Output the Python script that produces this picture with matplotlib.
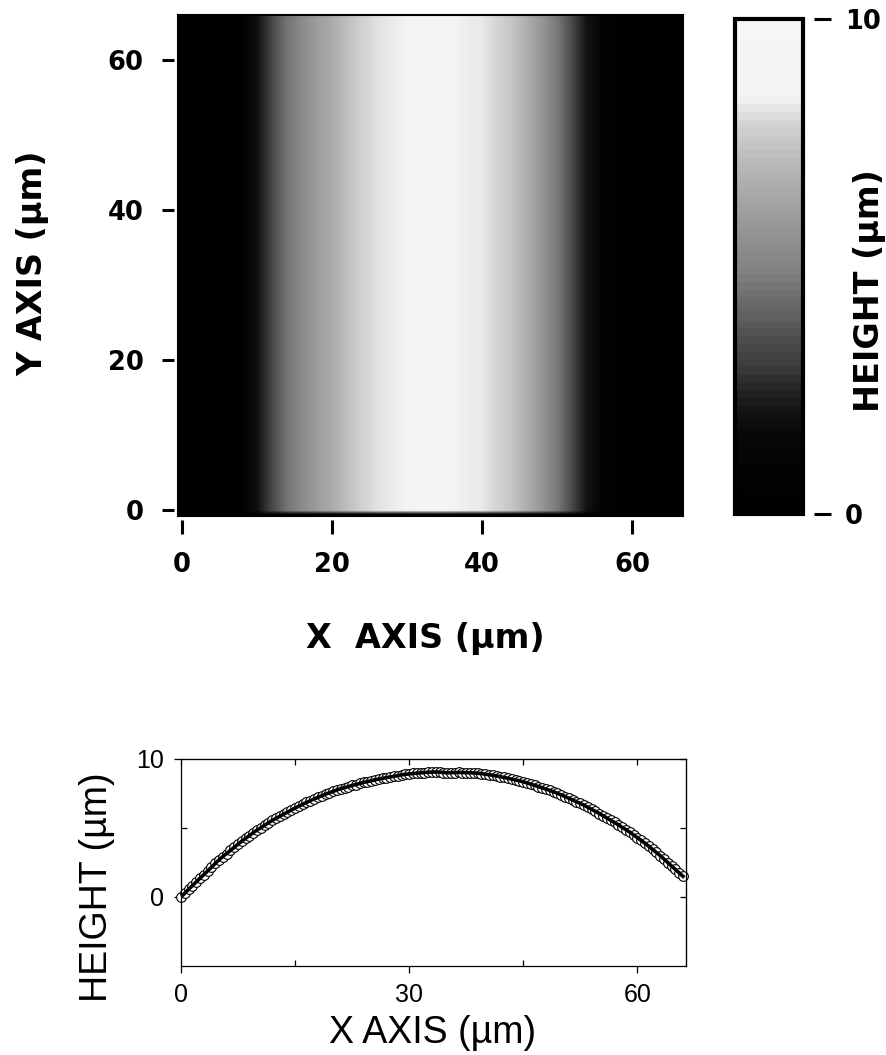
import numpy as np
import matplotlib
matplotlib.use("Agg")
import matplotlib.pyplot as plt
from matplotlib.colors import LinearSegmentedColormap

# ---------------- data ----------------
# Top map: height (um) across X (stripe is uniform along Y), sampled every 2 um
map_x = [0, 2, 4, 6, 8, 10, 12, 14, 16, 18, 20, 22, 24, 26, 28, 30, 32, 34,
         36, 38, 40, 42, 44, 46, 48, 50, 52, 54, 56, 58, 60, 62, 64, 66]
map_height = [0.3, 0.3, 0.3, 0.3, 0.4, 1.8, 3.3, 4.5, 5.3, 6.0, 6.6, 7.3,
              7.85, 8.15, 8.3, 8.5, 9.0, 9.2, 8.8, 8.35, 8.25, 7.95, 7.5,
              6.7, 5.8, 4.7, 3.4, 2.0, 0.9, 0.3, 0.3, 0.3, 0.3, 0.3]
map_y_range = [-0.8, 66.2]
map_edge_height = 0.0          # dark strip along the bottom edge of the scan

# Grey scale of the colour bar (fraction of 0-10 um range -> grey level)
cbar_pos = [0.0, 0.10, 0.15, 0.20, 0.25, 0.30, 0.35, 0.40, 0.45, 0.50, 0.55,
            0.60, 0.65, 0.70, 0.75, 0.80, 0.83, 0.85, 1.0]
cbar_gray = [0.0, 0.015, 0.03, 0.07, 0.15, 0.24, 0.30, 0.38, 0.45, 0.52, 0.56,
             0.61, 0.66, 0.71, 0.77, 0.84, 0.92, 0.955, 0.965]

# Bottom: height profile, one point every 0.5 um from x = 0
profile_step = 0.5
profile_height = [
    0.00, 0.28, 0.55, 0.83, 1.10, 1.36, 1.62, 1.89, 2.15, 2.43, 2.70, 2.92,
    3.15, 3.38, 3.60, 3.83, 4.05, 4.25, 4.45, 4.66, 4.85, 5.02, 5.20, 5.38,
    5.55, 5.70, 5.85, 6.00, 6.15, 6.30, 6.45, 6.58, 6.72, 6.85, 6.98, 7.10,
    7.22, 7.34, 7.45, 7.55, 7.65, 7.76, 7.85, 7.92, 8.00, 8.08, 8.15, 8.23,
    8.30, 8.36, 8.42, 8.49, 8.55, 8.60, 8.65, 8.70, 8.75, 8.80, 8.85, 8.89,
    8.92, 8.95, 8.97, 9.00, 9.02, 9.04, 9.05, 9.06, 9.05, 9.02, 9.00, 9.01,
    9.02, 9.03, 9.02, 9.01, 9.00, 8.99, 8.97, 8.94, 8.90, 8.86, 8.82, 8.77,
    8.72, 8.66, 8.60, 8.54, 8.48, 8.42, 8.35, 8.27, 8.18, 8.09, 8.00, 7.91,
    7.82, 7.72, 7.62, 7.51, 7.40, 7.28, 7.15, 7.03, 6.90, 6.78, 6.65, 6.50,
    6.35, 6.20, 6.05, 5.89, 5.72, 5.56, 5.40, 5.23, 5.05, 4.88, 4.70, 4.50,
    4.30, 4.10, 3.90, 3.68, 3.45, 3.23, 3.00, 2.75, 2.50, 2.25, 2.00, 1.75,
    1.50]

top_xticks = [0, 20, 40, 60]
top_yticks = [0, 20, 40, 60]
cbar_ticks = [0, 10]
bot_xticks = [0, 30, 60]
bot_xminor = [15, 45]
bot_yticks = [0, 10]
bot_yminor = [5]

# ---------------- figure ----------------
W, H = 887, 1055
fig = plt.figure(figsize=(W / 100, H / 100), dpi=100)

def rect(x0, y0, x1, y1):
    return [x0 / W, 1 - y1 / H, (x1 - x0) / W, (y1 - y0) / H]

bold_font = ["DejaVu Sans"]
reg_font = ["Liberation Sans", "DejaVu Sans"]

seg = list(zip(cbar_pos, [(g, g, g) for g in cbar_gray]))
cmap_smooth = LinearSegmentedColormap.from_list("afm_gray", seg, N=256)
cmap_banded = LinearSegmentedColormap.from_list("afm_gray_b", seg, N=64)

# ---- top map ----
ax = fig.add_axes(rect(178, 15, 683, 516))
n_rows = int(round((map_y_range[1] - map_y_range[0]) / 0.5))
img = np.tile(np.asarray(map_height, float), (n_rows, 1))
img[0, :] = map_edge_height
dx = map_x[1] - map_x[0]
im = ax.imshow(img, cmap=cmap_smooth, vmin=0, vmax=10, origin="lower",
               aspect="auto", interpolation="bilinear",
               interpolation_stage="rgba",
               extent=(map_x[0] - dx / 2, map_x[-1] + dx / 2,
                       map_y_range[0], map_y_range[1]))
ax.set_xlim(-0.5, 66.8)
ax.set_ylim(-0.8, 66.0)
for s in ["top", "right"]:
    ax.spines[s].set_visible(False)
for s in ["left", "bottom"]:
    ax.spines[s].set_position(("outward", 3))
    ax.spines[s].set_visible(False)
ax.set_xticks(top_xticks)
ax.set_yticks(top_yticks)
ax.tick_params(axis="y", direction="out", length=8.6, width=2.2, pad=13,
               labelsize=18.5)
ax.tick_params(axis="x", direction="out", length=10, width=2.2, pad=13,
               labelsize=18.5)
for lab in ax.get_xticklabels() + ax.get_yticklabels():
    lab.set_fontweight("bold")
    lab.set_family(bold_font)

frame = fig.add_axes(rect(178, 15, 683, 516))
frame.patch.set_visible(False)
frame.set_xticks([])
frame.set_yticks([])
for s in frame.spines.values():
    s.set_linewidth(1.5)

# ---- colour bar ----
cax = fig.add_axes(rect(735, 19, 803, 514))
sm = plt.cm.ScalarMappable(cmap=cmap_banded, norm=im.norm)
cb = fig.colorbar(sm, cax=cax, ticks=cbar_ticks)
cb.outline.set_linewidth(3)
cax.spines["right"].set_position(("outward", 8))
cax.tick_params(direction="out", length=12, width=2.2, pad=10, labelsize=18.5)
for lab in cax.get_yticklabels():
    lab.set_fontweight("bold")
    lab.set_family(bold_font)

fig.text(870 / W, 1 - 291 / H, "HEIGHT (\u00b5m)", rotation=90, ha="center",
         va="center", fontsize=24, fontweight="bold", family=bold_font)
fig.text(33 / W, 1 - 263 / H, "Y AXIS (\u00b5m)", rotation=90, ha="center",
         va="center", fontsize=24, fontweight="bold", family=bold_font)
fig.text(425 / W, 1 - 648 / H, "X  AXIS (\u00b5m)", ha="center",
         va="baseline", fontsize=24, fontweight="bold", family=bold_font)

# ---- bottom profile ----
ax2 = fig.add_axes(rect(181, 759, 686, 966))
px = np.arange(len(profile_height)) * profile_step
ax2.plot(px, profile_height, linestyle="none", marker="o", markersize=7,
         markerfacecolor="white", markeredgecolor="black",
         markeredgewidth=0.8, clip_on=False, zorder=2)
ax2.plot(px, profile_height, color="black", lw=2.6, zorder=3)
ax2.set_xlim(0, 66.4)
ax2.set_ylim(-5, 10)
ax2.set_xticks(bot_xticks)
ax2.set_xticks(bot_xminor, minor=True)
ax2.set_yticks(bot_yticks)
ax2.set_yticks(bot_yminor, minor=True)
ax2.tick_params(which="major", direction="out", length=5, width=0.9, pad=7,
                labelsize=18)
ax2.tick_params(which="minor", direction="in", length=4, width=0.9)
for lab in ax2.get_xticklabels() + ax2.get_yticklabels():
    lab.set_family(reg_font)
for s in ax2.spines.values():
    s.set_linewidth(0.9)

top = ax2.secondary_xaxis("top")
top.set_xticks(bot_xminor + bot_xticks)
top.tick_params(direction="in", length=4, width=0.9, labeltop=False)
right = ax2.secondary_yaxis("right")
right.set_yticks(bot_yminor + bot_yticks)
right.tick_params(direction="in", length=4, width=0.9, labelright=False)

fig.text(433 / W, 1 - 1043 / H, "X AXIS (\u00b5m)", ha="center",
         va="baseline", fontsize=27, family=reg_font)
fig.text(97 / W, 1 - 887 / H, "HEIGHT (\u00b5m)", rotation=90, ha="center",
         va="center", fontsize=27, family=reg_font)

fig.savefig("out.png", dpi=100)
